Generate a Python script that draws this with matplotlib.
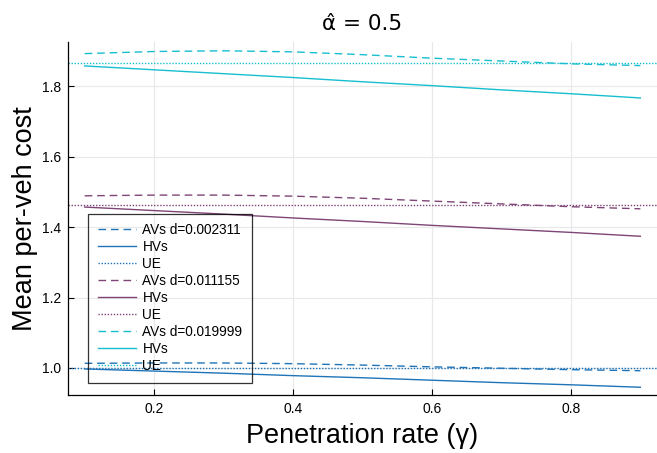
import matplotlib
matplotlib.use("Agg")
import matplotlib.pyplot as plt

plt.rcParams['font.family'] = ['Liberation Sans', 'DejaVu Sans']

gamma = [0.1, 0.2, 0.3, 0.4, 0.5, 0.6, 0.7, 0.8, 0.9]
d_values = ["0.002311", "0.011155", "0.019999"]

avs_1 = [1.013, 1.014, 1.014, 1.012, 1.008, 1.003, 0.999, 0.995, 0.992]
hvs_1 = [0.997, 0.991, 0.985, 0.978, 0.972, 0.965, 0.958, 0.952, 0.945]
ue_1 = 1.001

avs_2 = [1.489, 1.491, 1.491, 1.488, 1.482, 1.474, 1.466, 1.458, 1.452]
hvs_2 = [1.457, 1.447, 1.437, 1.426, 1.416, 1.405, 1.395, 1.385, 1.374]
ue_2 = 1.463

avs_3 = [1.893, 1.899, 1.901, 1.898, 1.890, 1.880, 1.872, 1.864, 1.859]
hvs_3 = [1.858, 1.847, 1.836, 1.825, 1.813, 1.802, 1.790, 1.779, 1.767]
ue_3 = 1.866

colors = ["#1f74b8", "#7e4576", "#17becf"]

fig = plt.figure(figsize=(6.57, 4.53), dpi=100)
ax = fig.add_axes([68/657, 58/453, 589/657, 353/453])

series = [(avs_1, hvs_1, ue_1), (avs_2, hvs_2, ue_2), (avs_3, hvs_3, ue_3)]
lw = 1.0
for (avs, hvs, ue), c, d in zip(series, colors, d_values):
    ax.plot(gamma, avs, color=c, lw=lw, ls=(0, (5.5, 3.5)), label=f"AVs d={d}")
    ax.plot(gamma, hvs, color=c, lw=lw, ls='-', label="HVs")
    ax.axhline(ue, color=c, lw=lw, ls=(0, (1, 1.2)), label="UE")

ax.set_xlim(0.076, 0.924)
ax.set_ylim(0.923, 1.926)
ax.set_xticks([0.2, 0.4, 0.6, 0.8])
ax.set_xticklabels(["0.2", "0.4", "0.6", "0.8"])
ax.set_yticks([1.0, 1.2, 1.4, 1.6, 1.8])
ax.set_yticklabels(["1.0", "1.2", "1.4", "1.6", "1.8"])
ax.tick_params(direction='in', length=4, width=0.8, labelsize=10, colors='black', pad=5)
ax.grid(True, color='#e9e9e9', lw=0.9)
ax.set_axisbelow(True)
for s in ['top', 'right']:
    ax.spines[s].set_visible(False)
for s in ['left', 'bottom']:
    ax.spines[s].set_color('black')
    ax.spines[s].set_linewidth(0.9)

ax.set_xlabel("Penetration rate (γ)", fontsize=19.5, labelpad=5)
ax.set_ylabel("Mean per-veh cost", fontsize=19.5, labelpad=3)
ax.set_title("α\u0302 = 0.5", fontsize=15.5, pad=9, family=['DejaVu Sans'])

leg = ax.legend(loc='lower left', bbox_to_anchor=(0.034, 0.035), borderaxespad=0,
                fontsize=9.8, handlelength=2.8, handletextpad=0.5, labelspacing=0.22,
                borderpad=0.7, fancybox=False, frameon=True)
leg.get_frame().set_facecolor('none')
leg.get_frame().set_edgecolor('black')
leg.get_frame().set_linewidth(0.9)

fig.savefig("out.png", dpi=100)
